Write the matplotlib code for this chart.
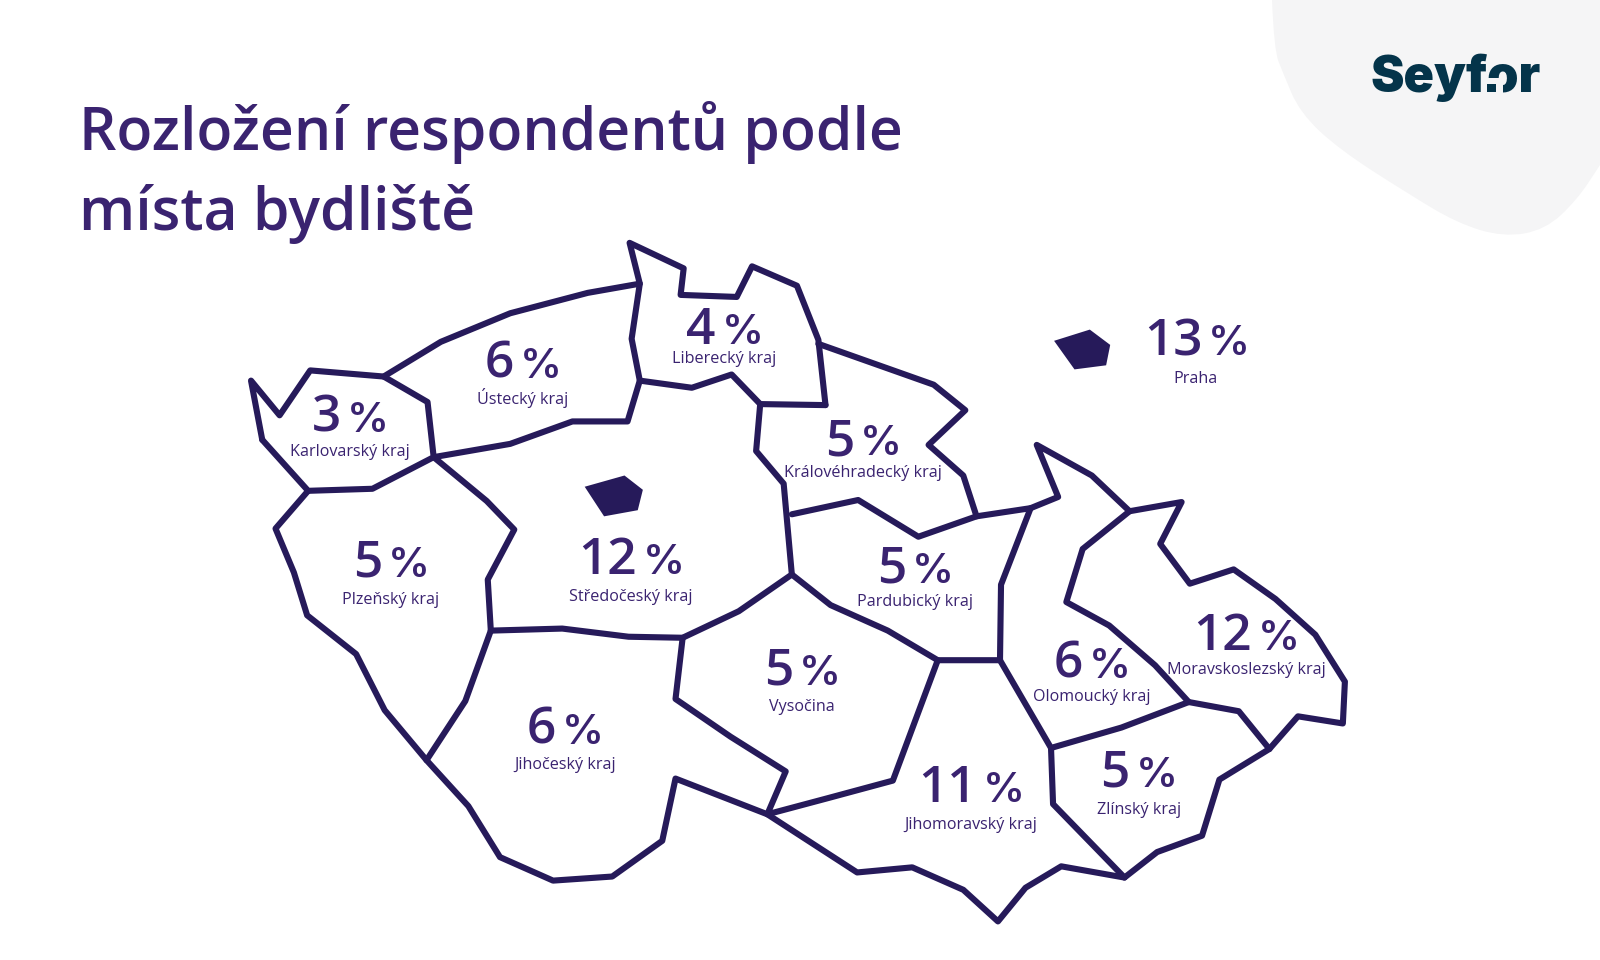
import matplotlib
matplotlib.use("Agg")
import matplotlib.pyplot as plt
from matplotlib.path import Path
from matplotlib.patches import PathPatch, Polygon, Rectangle

FONT = "Open Sans"
TEXT_COLOR = "#3a2370"
LINE_COLOR = "#261a5a"
BLOB_COLOR = "#f5f5f6"
LOGO_COLOR = "#04344a"

# souradnice jsou odectene z obrazku o sirce 1568 px
SCALE = 1600 / 1568

# kraje
regions = ["Ústecký kraj", "Karlovarský kraj", "Liberecký kraj", "Praha",
           "Královéhradecký kraj", "Plzeňský kraj", "Středočeský kraj",
           "Pardubický kraj", "Moravskoslezský kraj", "Olomoucký kraj",
           "Vysočina", "Jihočeský kraj", "Jihomoravský kraj", "Zlínský kraj"]
shares = [6, 3, 4, 13, 5, 5, 12, 5, 12, 6, 5, 6, 11, 5]
label_x = [512, 343, 710, 1172, 846, 383, 618, 897, 1221, 1070, 786, 554, 951, 1116]
label_y = [391, 442, 351, 370, 463, 587, 584, 589, 656, 682, 692, 749, 808, 793]
number_y = [370, 423, 337, 348, 446, 565, 563, 571, 637, 664, 671, 729, 786, 771]

# hranice kraju
outer_border = [(257, 431), (246, 373), (274, 407), (304, 363), (376, 369), (432, 335),
                (500, 307), (576, 287), (627, 278), (617, 238), (670, 263), (667, 289),
                (722, 291), (737, 261), (781, 280), (802, 333), (809, 397)]
karlovy_vary = [(376, 369), (419, 394), (425, 448), (365, 479), (302, 481), (257, 431)]
usti = [(627, 278), (619, 332), (627, 373), (615, 413), (561, 413), (500, 435), (425, 448)]
liberec_south = [(809, 397), (745, 396), (717, 367), (678, 380), (627, 373)]
hradec = [(802, 337), (915, 377), (946, 402), (910, 436), (944, 466), (957, 506)]
central_east = [(745, 396), (741, 442), (768, 474), (776, 563), (724, 599), (669, 625),
                (616, 624), (551, 616), (481, 618), (478, 568), (504, 519), (477, 491),
                (425, 448)]
pardubice_north = [(776, 504), (841, 490), (900, 526), (957, 506), (1010, 498), (1037, 487),
                   (1016, 436), (1070, 466), (1107, 501), (1158, 492), (1137, 533),
                   (1166, 572), (1209, 558), (1250, 587), (1289, 622), (1318, 668),
                   (1316, 709), (1272, 702), (1244, 734), (1195, 764), (1178, 819),
                   (1134, 835), (1102, 860), (1040, 849), (1005, 870), (978, 903),
                   (944, 872), (894, 850), (840, 855), (752, 798), (662, 763), (649, 824),
                   (600, 859), (542, 863), (490, 840), (459, 790), (418, 745), (377, 696),
                   (349, 641), (301, 603), (288, 561), (270, 518), (302, 481)]
plzen_east = [(481, 618), (456, 687), (418, 745)]
vysocina_west = [(669, 625), (662, 685), (716, 722), (770, 756), (752, 798), (812, 782),
                 (875, 765), (919, 647)]
vysocina_north = [(776, 563), (814, 593), (870, 618), (919, 647), (980, 647), (981, 573),
                  (1010, 498)]
olomouc_east = [(1107, 501), (1061, 538), (1045, 590), (1087, 613), (1132, 652), (1165, 688),
                (1214, 697), (1244, 734)]
olomouc_south = [(980, 647), (1030, 733), (1099, 713), (1165, 688)]
zlin_west = [(1030, 733), (1032, 788), (1102, 860)]
borders = [outer_border, karlovy_vary, usti, liberec_south, hradec, central_east,
           pardubice_north, plzen_east, vysocina_west, vysocina_north, olomouc_east,
           olomouc_south, zlin_west]

# Praha na mape a zvlast vedle ni
prague_inner = [(573, 477), (612, 466), (630, 480), (625, 500), (592, 506)]
prague_outer = [(1033, 334), (1068, 323), (1088, 338), (1084, 358), (1053, 362)]

# sedy tvar vpravo nahore, uz v pixelech vystupu
blob = [(1272, 0), (1274, 50), (1283, 73), (1300, 113), (1340, 150), (1407, 193),
        (1457, 223), (1503, 237), (1545, 230), (1577, 200), (1600, 165)]


def sc(points):
    return [(x * SCALE, y * SCALE) for x, y in points]


def blob_path(points):
    # vyhlazeni pres kvadraticke krivky, ridici body jsou body obrysu
    verts = [points[0]]
    codes = [Path.MOVETO]
    for i in range(1, len(points) - 1):
        mid = ((points[i][0] + points[i + 1][0]) / 2, (points[i][1] + points[i + 1][1]) / 2)
        verts += [points[i], mid]
        codes += [Path.CURVE3, Path.CURVE3]
    verts += [points[-1], (1600, 0), points[0]]
    codes += [Path.LINETO, Path.LINETO, Path.CLOSEPOLY]
    return Path(verts, codes)


fig = plt.figure(figsize=(16, 9.6), dpi=100)
ax = fig.add_axes([0, 0, 1, 1])
ax.set_xlim(0, 1600)
ax.set_ylim(960, 0)
ax.axis("off")

ax.add_patch(PathPatch(blob_path(blob), facecolor=BLOB_COLOR, edgecolor="none"))

# logo, mezera v "o" se dela prekrytim
ax.text(1371, 92, "Seyfor", color=LOGO_COLOR, fontsize=36.2, fontweight="black",
        family="Inter", ha="left", va="baseline")
ax.add_patch(Rectangle((1484, 78), 19, 16, facecolor=BLOB_COLOR, edgecolor="none", zorder=3))
ax.add_patch(Rectangle((1487, 84), 9, 8, facecolor=LOGO_COLOR, edgecolor="none", zorder=4))

ax.text(79, 150, "Rozložení respondentů podle", color=TEXT_COLOR, fontsize=42.3,
        fontweight="semibold", family=FONT, va="baseline")
ax.text(79, 230, "místa bydliště", color=TEXT_COLOR, fontsize=42.3,
        fontweight="semibold", family=FONT, va="baseline")

for line in borders:
    xs, ys = zip(*sc(line))
    ax.plot(xs, ys, color=LINE_COLOR, lw=4.4, solid_joinstyle="round", solid_capstyle="round")

for shape in [prague_inner, prague_outer]:
    ax.add_patch(Polygon(sc(shape), closed=True, facecolor=LINE_COLOR, edgecolor="none"))

for name, share, x, y, ny in zip(regions, shares, label_x, label_y, number_y):
    # dvouciferna cisla jsou posunuta, aby skupina zustala na stredu popisku
    shift = 15 if share >= 10 else 0
    px = (x + shift) * SCALE
    ax.text(px - 9, ny * SCALE, str(share), color=TEXT_COLOR, fontsize=37, fontweight="semibold",
            family=FONT, ha="right", va="baseline")
    ax.text(px - 3, ny * SCALE, "%", color=TEXT_COLOR, fontsize=30, fontweight="semibold",
            family="Inter", ha="left", va="baseline")
    ax.text(x * SCALE, y * SCALE + 5, name, color=TEXT_COLOR, fontsize=11.6, family=FONT,
            ha="center", va="baseline")

fig.savefig("out.png", dpi=100, facecolor="white")
